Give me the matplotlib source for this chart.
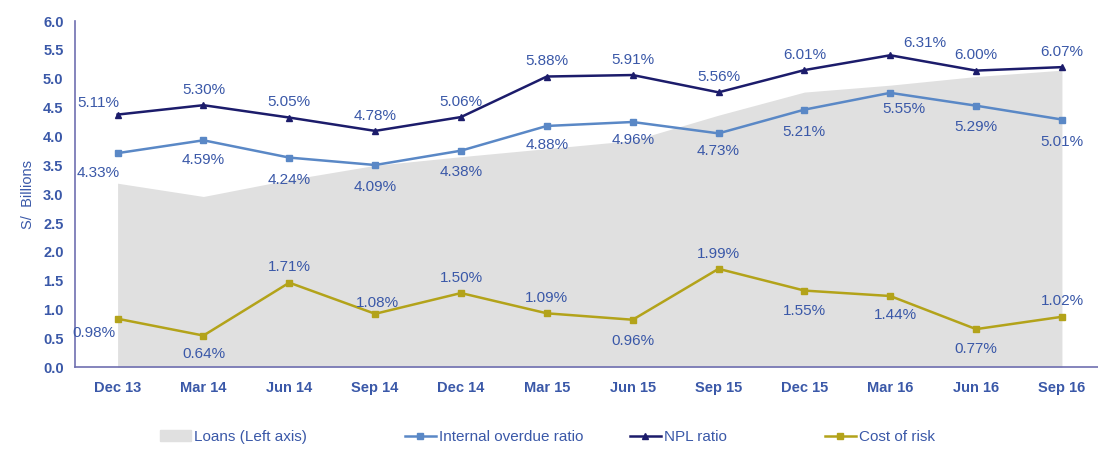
import matplotlib
matplotlib.use("Agg")
import matplotlib.pyplot as plt
import numpy as np
from matplotlib.patches import Patch

plt.rcParams['font.family'] = ['Liberation Sans', 'DejaVu Sans']

categories = ["Dec 13", "Mar 14", "Jun 14", "Sep 14", "Dec 14", "Mar 15",
              "Jun 15", "Sep 15", "Dec 15", "Mar 16", "Jun 16", "Sep 16"]
loans = [3.19, 2.96, 3.25, 3.50, 3.65, 3.79, 3.93, 4.37, 4.77, 4.89, 5.04, 5.15]
internal_overdue = [4.33, 4.59, 4.24, 4.09, 4.38, 4.88, 4.96, 4.73, 5.21, 5.55, 5.29, 5.01]
npl_ratio = [5.11, 5.30, 5.05, 4.78, 5.06, 5.88, 5.91, 5.56, 6.01, 6.31, 6.00, 6.07]
cost_of_risk = [0.98, 0.64, 1.71, 1.08, 1.50, 1.09, 0.96, 1.99, 1.55, 1.44, 0.77, 1.02]

# label placement (offset in points)
npl_off = [(0, 11)] * 12
npl_off[0] = (-14, 8)
npl_off[9] = (25, 9)
iod_off = [(0, -13)] * 12
iod_off[0] = (-14, -14)
iod_off[1] = (0, -14)
iod_off[2] = (0, -16)
iod_off[3] = (0, -16)
iod_off[4] = (0, -15)
iod_off[5] = (0, -14)
iod_off[8] = (0, -16)
iod_off[9] = (10, -12)
iod_off[10] = (0, -15)
iod_off[11] = (0, -16)
cor_off = [(-17, -10), (0, -13), (0, 11), (2, 8), (0, 11), (0, 11),
           (0, -15), (0, 11), (0, -15), (4, -14), (0, -14), (0, 11)]

label_color = "#3a58a8"
npl_color = "#1c1c6b"
iod_color = "#5a88c6"
cor_color = "#b3a31a"
area_color = "#e0e0e0"
axis_color = "#6f6fb0"

fig = plt.figure(figsize=(10.98, 4.5), dpi=100)
ax = fig.add_axes([0.068, 0.184, 0.932, 0.769])
x = np.arange(len(categories))

ax.fill_between(x, 0, loans, color=area_color, linewidth=0, label="Loans (Left axis)")
ax.set_ylim(0, 6.0)
ax.set_xlim(-0.5, 11.42)
ax.set_yticks(np.arange(0, 6.01, 0.5))
ax.set_yticklabels([f"{v:.1f}" for v in np.arange(0, 6.01, 0.5)])
ax.set_xticks(x)
ax.set_xticklabels(categories)
for s in ["top", "right"]:
    ax.spines[s].set_visible(False)
for s in ["left", "bottom"]:
    ax.spines[s].set_color(axis_color)
    ax.spines[s].set_linewidth(1.2)
ax.tick_params(axis='both', length=0, colors=label_color, labelsize=10.5)
ax.tick_params(axis='x', pad=10)
ax.tick_params(axis='y', pad=8)
for t in ax.get_xticklabels() + ax.get_yticklabels():
    t.set_color(label_color)
    t.set_fontweight('bold')
ax.set_ylabel("S/  Billions", color=label_color, fontsize=10.5, labelpad=6)

ax2 = ax.twinx()
ax2.set_ylim(0, 7.0)
ax2.axis('off')
l1, = ax2.plot(x, internal_overdue, color=iod_color, lw=1.8, marker='s', ms=5,
               label="Internal overdue ratio")
l2, = ax2.plot(x, npl_ratio, color=npl_color, lw=1.8, marker='^', ms=5,
               label="NPL ratio")
l3, = ax2.plot(x, cost_of_risk, color=cor_color, lw=1.8, marker='s', ms=5,
               label="Cost of risk")

for series, offs in [(npl_ratio, npl_off), (internal_overdue, iod_off), (cost_of_risk, cor_off)]:
    for xi, v, o in zip(x, series, offs):
        ax2.annotate(f"{v:.2f}%", (xi, v), xytext=o, textcoords='offset points',
                     ha='center', va='center', fontsize=11, color=label_color)

handles = [Patch(color=area_color, label="Loans (Left axis)"), l1, l2, l3]
lefts = [160, 405, 630, 825]
for h, lx in zip(handles, lefts):
    leg = fig.legend(handles=[h], loc='center left', bbox_to_anchor=(lx / 1098, 13 / 450),
                     frameon=False, fontsize=11, labelcolor=label_color,
                     handlelength=2.0, handletextpad=0.2, borderpad=0, borderaxespad=0)

fig.savefig("out.png", dpi=100)
